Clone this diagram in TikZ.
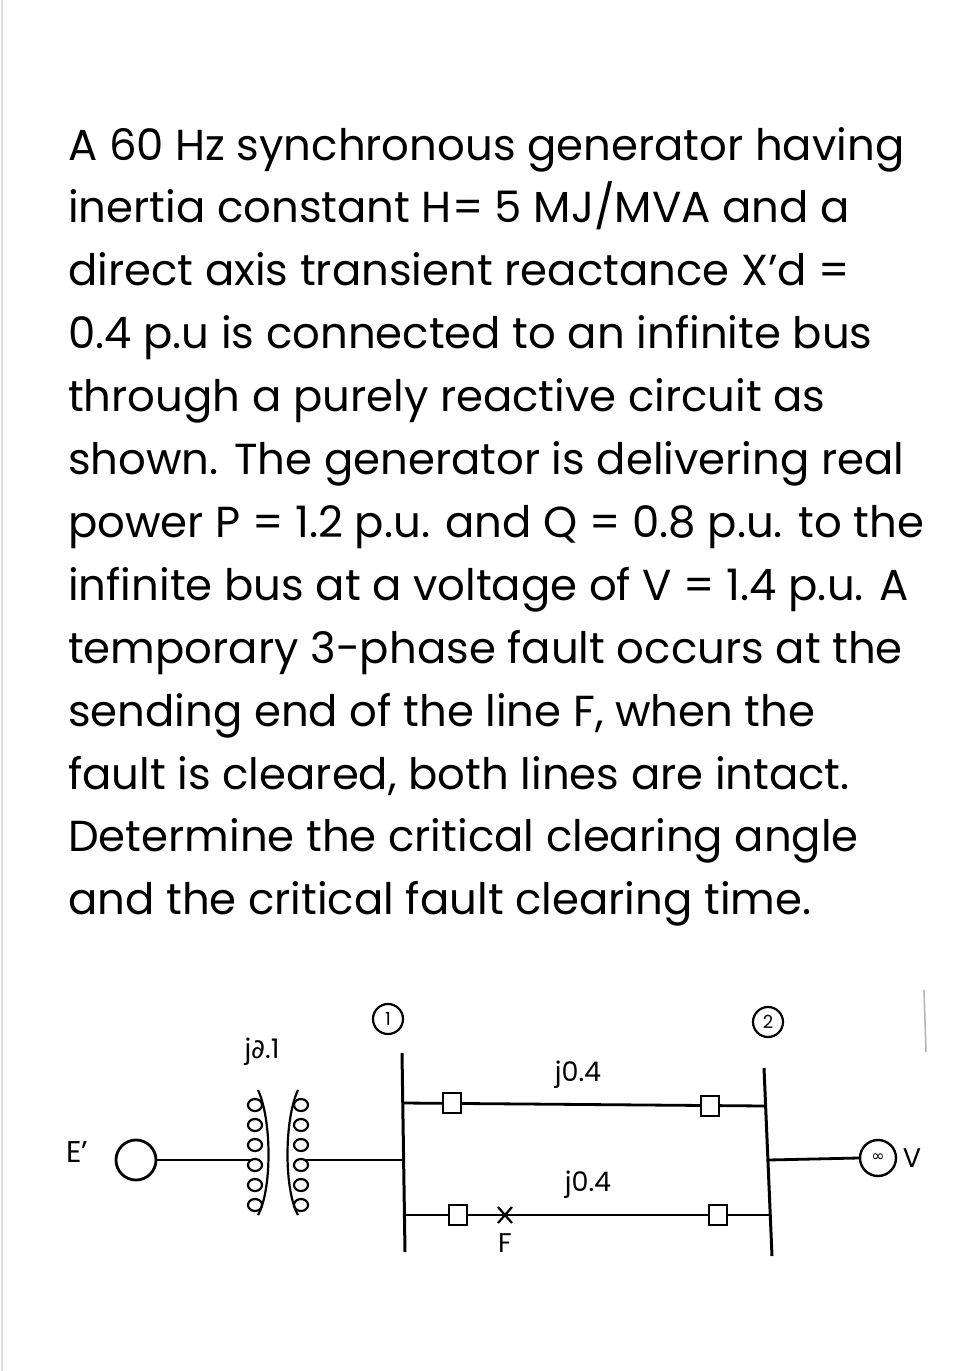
\documentclass[tikz,border=0pt]{standalone}
\usepackage{fontspec}
\setmainfont{Poppins}
\newfontfamily\dv{DejaVu Sans}
\usetikzlibrary{shapes.geometric}
\begin{document}
\begin{tikzpicture}[x=1pt,y=-1pt,
  txt/.style={anchor=base west,inner sep=0pt,font=\fontsize{43.4}{52}\selectfont},
  lbl/.style={inner sep=0pt,font=\fontsize{27}{31}\selectfont},
  brk/.style={draw,line width=2.8pt,fill=white,minimum width=18pt,minimum height=20pt,inner sep=0pt},
  wire/.style={line width=2.8pt},
  bus/.style={line width=3pt}]
\useasboundingbox[fill=white] (0,0) rectangle (977,1371);
\draw[gray!25,line width=2pt] (2,0) -- (2,1371);
\foreach \t [count=\i] in {A 60 Hz synchronous generator having,
 inertia constant H= 5 MJ/MVA and a,
 direct axis transient reactance X’d =,
 0.4 p.u is connected to an infinite bus,
 through a purely reactive circuit as,
 shown. The generator is delivering real,
 power P = 1.2 p.u. and Q = 0.8 p.u. to the,
 infinite bus at a voltage of V = 1.4 p.u. A,
 temporary 3-phase fault occurs at the,
 sending end of the line F{,} when the,
 fault is cleared{,} both lines are intact.,
 Determine the critical clearing angle,
 and the critical fault clearing time.}
 \node[txt] (t\i) at (68,{160+62.9*(\i-1)}) {\t};
% generator
\node[draw,circle,line width=2.8pt,minimum width=40pt,inner sep=0pt] (gen) at (136,1160) {};
\node[lbl,font=\fontsize{30}{34}\selectfont] (ep) at (77,1152) {E’};
% transformer
\coordinate (tl) at (250,1160);
\coordinate (tr) at (306,1160);
\draw[line width=2.2pt] (258,1090) .. controls (272,1120) and (272,1190) .. (258,1215);
\draw[line width=2.2pt] (298,1090) .. controls (284,1120) and (284,1190) .. (298,1215);
\foreach \k in {0,...,5}{
  \draw[line width=2.2pt] (255,{1105+20*\k}) ellipse (7 and 6);
  \draw[line width=2.2pt] (301,{1105+20*\k}) ellipse (7 and 6);}
\node[lbl] (j01) at (262,1052) {j\dv ∂\rmfamily.1};
\draw[wire] (gen.east) -- (tl);
% bus 1
\coordinate (b1t) at (402,1053);
\coordinate (b1b) at (405,1252);
\draw[bus] (b1t) -- (b1b);
\node[draw,circle,line width=2.2pt,minimum width=30pt,inner sep=0pt,font=\fontsize{18}{21}\selectfont] (c1) at (388,1019) {1};
\coordinate (b1m) at (403,1160);
\draw[wire] (tr) -- (b1m);
% bus 2
\coordinate (b2t) at (764,1068);
\coordinate (b2b) at (772,1256);
\draw[bus] (b2t) -- (b2b);
\node[draw,circle,line width=2.2pt,minimum width=30pt,inner sep=0pt,font=\fontsize{18}{21}\selectfont] (c2) at (768,1022) {2};
% lines
\coordinate (a1) at (403,1103); \coordinate (a2) at (766,1106);
\coordinate (d1) at (405,1215); \coordinate (d2) at (770,1215);
\draw[wire] (a1) -- (a2);
\draw[wire] (d1) -- (d2);
\node[brk] (k1) at (452,1103) {};
\node[brk] (k2) at (710,1106) {};
\node[brk] (k3) at (458,1215) {};
\node[brk] (k4) at (718,1215) {};
\node[lbl] (l1) at (578,1075) {j0.4};
\node[lbl] (l2) at (588,1185) {j0.4};
\coordinate (fx) at (505,1215);
\draw[line width=2.2pt] ([shift={(-7,-8)}]fx) -- ([shift={(7,8)}]fx) ([shift={(7,-8)}]fx) -- ([shift={(-7,8)}]fx);
\node[lbl] (fl) at (505,1243) {F};
% infinite bus
\node[draw,circle,line width=2.4pt,minimum width=36pt,inner sep=0pt,font=\dv\fontsize{16}{18}\selectfont] (inf) at (878,1158) {∞};
\node[lbl] (vl) at (912,1158) {V};
\coordinate (b2m) at (768,1160);
\draw[wire] (b2m) -- (inf.west);
\draw[gray!60,line width=1.5pt] (924,990) -- (926,1052);
\end{tikzpicture}
\end{document}
